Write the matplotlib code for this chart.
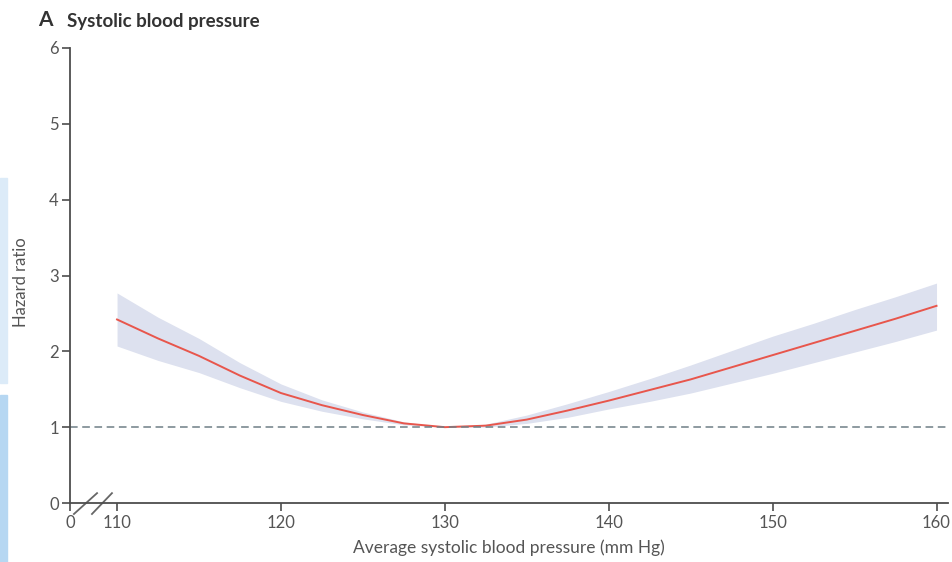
import matplotlib
matplotlib.use('Agg')
from matplotlib import pyplot as plt
from matplotlib.patches import Rectangle

plt.rcParams['font.family'] = ['Lato', 'DejaVu Sans']

# systolic blood pressure (mm Hg) and hazard ratio with 95% CI
sbp = [110, 112.5, 115, 117.5, 120, 122.5, 125, 127.5, 130, 132.5, 135,
       137.5, 140, 142.5, 145, 147.5, 150, 152.5, 155, 157.5, 160]
hr = [2.42, 2.17, 1.94, 1.68, 1.45, 1.29, 1.16, 1.05, 1.00, 1.02, 1.10,
      1.22, 1.35, 1.49, 1.63, 1.79, 1.95, 2.11, 2.27, 2.43, 2.60]
hr_upper = [2.77, 2.45, 2.17, 1.85, 1.57, 1.36, 1.20, 1.07, 1.00, 1.04, 1.16,
            1.31, 1.47, 1.64, 1.82, 2.01, 2.20, 2.37, 2.55, 2.72, 2.90]
hr_lower = [2.07, 1.88, 1.72, 1.52, 1.34, 1.21, 1.11, 1.03, 1.00, 1.00, 1.05,
            1.13, 1.24, 1.34, 1.45, 1.58, 1.71, 1.85, 1.99, 2.13, 2.28]

x_ticks = [110, 120, 130, 140, 150, 160]
y_ticks = [0, 1, 2, 3, 4, 5, 6]

axis_col = '#4d4d4d'
text_col = '#555555'

fig = plt.figure(figsize=(9.53, 5.62), dpi=100)

# light blue strip on the left edge of the screenshot
fig.patches.append(Rectangle((0, 1 - 383 / 562), 7 / 953, 205 / 562, transform=fig.transFigure,
                             color='#dcebf8', zorder=0))
fig.patches.append(Rectangle((0, 0), 7 / 953, 167 / 562, transform=fig.transFigure,
                             color='#b6d7f2', zorder=0))

ax = fig.add_axes([70 / 953, 59 / 562, 878 / 953, 455 / 562])
ax.patch.set_alpha(0)

# broken axis: the "0" sits at the left edge of the axis
x_zero = 107.13
ax.set_xlim(x_zero, 160.7)
ax.set_ylim(0, 6)

ax.fill_between(sbp, hr_lower, hr_upper, color='#dde1ef', lw=0)
ax.plot(sbp, hr, color='#e8564c', lw=1.4)
ax.axhline(1, color='#6f7f86', lw=1.1, ls=(0, (5, 3)))

for side in ['top', 'right']:
    ax.spines[side].set_visible(False)
for side in ['left', 'bottom']:
    ax.spines[side].set_color(axis_col)
    ax.spines[side].set_linewidth(1.3)

ax.set_xticks([x_zero] + x_ticks)
ax.set_xticklabels(['0'] + [str(t) for t in x_ticks])
ax.set_yticks(y_ticks)
ax.set_yticklabels([str(t) for t in y_ticks])
ax.tick_params(direction='out', length=6, width=1.2, color=axis_col,
               labelcolor=text_col, labelsize=12, pad=2)
ax.tick_params(axis='x', pad=3)

# axis break marks
for x0, x1 in [(107.37, 108.78), (108.47, 109.69)]:
    ax.plot([x0, x1], [-0.145, 0.13], color='#666666', lw=1.3, clip_on=False)

ax.set_xlabel('Average systolic blood pressure (mm Hg)', fontsize=12.5, color=text_col, labelpad=6)
ax.set_ylabel('Hazard ratio', fontsize=12, color=text_col)
ax.yaxis.set_label_coords(-0.047, 0.485)

fig.text(38 / 953, 1 - 20 / 562, 'A', fontsize=15, fontweight='bold', color='#333333', va='center')
fig.text(67 / 953, 1 - 21 / 562, 'Systolic blood pressure', fontsize=13.5, fontweight='bold',
         color='#333333', va='center')

fig.savefig('out.png', dpi=100)
